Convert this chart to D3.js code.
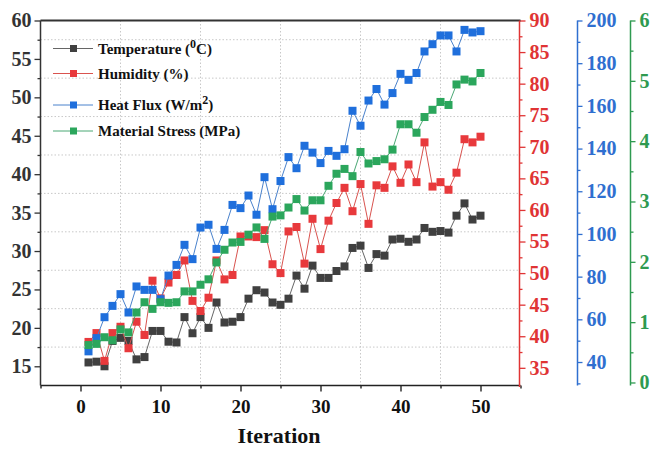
<!DOCTYPE html>
<html><head><meta charset="utf-8">
<script src="https://cdn.jsdelivr.net/npm/d3@7"></script>
<style>
html,body{margin:0;padding:0;background:#fff;}
svg text{font-family:"Liberation Serif","Times New Roman",serif;font-weight:bold;}
</style></head>
<body><svg id="c" width="650" height="449"></svg>
<script>
const iterations = d3.range(1, 51);
const temperature = [15.5,15.6,15.0,18.3,18.7,18.3,15.9,16.2,19.6,19.6,18.2,18.1,21.4,19.3,21.4,20.0,23.3,20.7,20.8,21.4,23.8,24.9,24.6,23.3,23.0,23.8,26.8,25.1,28.1,26.5,26.5,27.4,28.0,30.4,30.7,27.8,29.6,29.4,31.5,31.6,31.2,31.5,33.0,32.5,32.6,32.4,34.6,36.2,34.1,34.6];
const humidity = [39.1,40.5,36.1,40.5,41.5,38.1,42.3,40.2,48.8,46.0,48.5,49.7,52.0,45.6,44.0,46.1,52.0,49.0,49.7,55.8,55.8,55.7,56.8,51.4,50.0,56.6,57.3,51.5,58.6,53.8,58.3,61.1,63.5,59.8,64.1,57.8,63.9,63.5,66.9,64.3,67.2,64.4,70.7,63.7,64.4,63.2,65.9,71.2,70.7,71.6];
const heatFlux = [45,51.2,61.0,66.3,71.8,63.2,75.4,73.8,73.8,69.4,80.5,85.5,94.9,88.2,103.0,104.3,93.0,101.9,113.6,112.1,118.0,109.0,126.6,111.6,124.8,136.0,130.8,141.3,138.1,133.2,138.9,136.6,139.7,157.7,150.7,162.5,167.9,160.6,166.0,175.0,172.2,175.4,185.5,188.9,193.0,193.0,185.5,195.6,194.4,195.0];
const stress = [0.62,0.64,0.75,0.70,0.88,0.83,1.16,1.33,1.22,1.33,1.32,1.33,1.51,1.51,1.62,1.71,1.99,2.20,2.32,2.33,2.45,2.57,2.38,2.75,2.77,2.90,3.04,2.85,3.02,3.02,3.26,3.46,3.54,3.42,3.82,3.63,3.67,3.70,3.86,4.28,4.28,4.14,4.40,4.52,4.65,4.60,4.94,5.02,4.99,5.13];

const xTicks = [0,10,20,30,40,50];
const xMinor = [-5,5,15,25,35,45,55];
const tTicks = [15,20,25,30,35,40,45,50,55,60];
const tMinor = [17.5,22.5,27.5,32.5,37.5,42.5,47.5,52.5,57.5];
const hTicks = [35,40,45,50,55,60,65,70,75,80,85,90];
const hMinor = [37.5,42.5,47.5,52.5,57.5,62.5,67.5,72.5,77.5,82.5,87.5];
const fTicks = [40,60,80,100,120,140,160,180,200];
const fMinor = [30,50,70,90,110,130,150,170,190];
const sTicks = [0,1,2,3,4,5,6];
const sMinor = [0.5,1.5,2.5,3.5,4.5,5.5];

const svg = d3.select("#c");
const L = 40.5, R = 520.5, T = 20.5, B = 385.5;
const x = d3.scaleLinear().domain([-5,55]).range([L,R]);
const yT = d3.scaleLinear().domain([12.5,60]).range([B,T]);
const yH = d3.scaleLinear().domain([32.2,90]).range([B,T]);
const yF = d3.scaleLinear().domain([29,200]).range([B,T]);
const yS = d3.scaleLinear().domain([-0.05,6]).range([B,T]);

// grid
const g = svg.append("g");
g.selectAll("line.v").data(xMinor.filter(v=>v>-5&&v<55)).enter().append("line")
  .attr("x1",d=>x(d)).attr("x2",d=>x(d)).attr("y1",T).attr("y2",B)
  .attr("stroke","#c8c8c8").attr("stroke-width",1).attr("stroke-dasharray","1.5,2");
g.selectAll("line.h").data(tMinor).enter().append("line")
  .attr("x1",L).attr("x2",R).attr("y1",d=>yT(d)).attr("y2",d=>yT(d))
  .attr("stroke","#c8c8c8").attr("stroke-width",1).attr("stroke-dasharray","1.5,2");

function styleAxis(sel, color, fs){
  sel.select(".domain").remove();
  sel.selectAll("line").attr("stroke",color).attr("stroke-width",1.3);
  sel.selectAll("text").attr("fill",color).style("font-size",fs+"px");
}
// bottom axis
const xa = svg.append("g").attr("transform",`translate(0,${B})`)
  .call(d3.axisBottom(x).tickValues(xTicks).tickSize(6).tickPadding(8).tickFormat(d3.format("d")));
styleAxis(xa,"#111",19);
const xm = svg.append("g").attr("transform",`translate(0,${B})`)
  .call(d3.axisBottom(x).tickValues(xMinor).tickSize(3).tickFormat(""));
styleAxis(xm,"#111",19);
// left axis
const la = svg.append("g").attr("transform",`translate(${L},0)`)
  .call(d3.axisLeft(yT).tickValues(tTicks).tickSize(6).tickPadding(3));
styleAxis(la,"#333",20);
const lm = svg.append("g").attr("transform",`translate(${L},0)`)
  .call(d3.axisLeft(yT).tickValues(tMinor).tickSize(3).tickFormat(""));
styleAxis(lm,"#333",20);
// red axis
const ra = svg.append("g").attr("transform",`translate(${R-1},0)`)
  .call(d3.axisRight(yH).tickValues(hTicks).tickSize(6).tickPadding(4));
styleAxis(ra,"#e03434",20);
const rm = svg.append("g").attr("transform",`translate(${R-1},0)`)
  .call(d3.axisRight(yH).tickValues(hMinor).tickSize(3).tickFormat(""));
styleAxis(rm,"#e03434",20);
// blue axis
const bX = 577.5;
const ba = svg.append("g").attr("transform",`translate(${bX},0)`)
  .call(d3.axisRight(yF).tickValues(fTicks).tickSize(5).tickPadding(4));
styleAxis(ba,"#2f6fd0",20);
const bm = svg.append("g").attr("transform",`translate(${bX},0)`)
  .call(d3.axisRight(yF).tickValues(fMinor).tickSize(3).tickFormat(""));
styleAxis(bm,"#2f6fd0",20);
// green axis
const gX = 630.5;
const ga = svg.append("g").attr("transform",`translate(${gX},0)`)
  .call(d3.axisRight(yS).tickValues(sTicks).tickSize(5).tickPadding(4).tickFormat(d3.format("d")));
styleAxis(ga,"#2e9a50",20);
const gm = svg.append("g").attr("transform",`translate(${gX},0)`)
  .call(d3.axisRight(yS).tickValues(sMinor).tickSize(3).tickFormat(""));
styleAxis(gm,"#2e9a50",20);

// axis lines
svg.append("line").attr("x1",L).attr("x2",R).attr("y1",T).attr("y2",T).attr("stroke","#333").attr("stroke-width",2.2);
svg.append("line").attr("x1",L).attr("x2",R).attr("y1",B).attr("y2",B).attr("stroke","#222").attr("stroke-width",1.5);
svg.append("line").attr("x1",L).attr("x2",L).attr("y1",T).attr("y2",B).attr("stroke","#333").attr("stroke-width",1.5);
svg.append("line").attr("x1",R-1).attr("x2",R-1).attr("y1",T).attr("y2",B+1.5).attr("stroke","#e03434").attr("stroke-width",1.5);
svg.append("line").attr("x1",bX).attr("x2",bX).attr("y1",T).attr("y2",B).attr("stroke","#2f6fd0").attr("stroke-width",1.5);
svg.append("line").attr("x1",gX).attr("x2",gX).attr("y1",T).attr("y2",B).attr("stroke","#2e9a50").attr("stroke-width",1.5);

// x title
svg.append("text").attr("x",279).attr("y",443).attr("text-anchor","middle")
  .style("font-size","22px").attr("fill","#111").text("Iteration");

// series
const series = [
  {vals:temperature, y:yT, fill:"#404040", line:"#666"},
  {vals:humidity, y:yH, fill:"#e8393c", line:"#d9534f"},
  {vals:heatFlux, y:yF, fill:"#1f6fdc", line:"#4a82cc"},
  {vals:stress, y:yS, fill:"#2ba65c", line:"#4aa874"}
];
const ms = 8;
series.forEach(s=>{
  const line = d3.line().x((d,i)=>x(iterations[i])).y(d=>s.y(d));
  svg.append("path").datum(s.vals).attr("d",line).attr("fill","none")
    .attr("stroke",s.line).attr("stroke-width",1);
  svg.append("g").selectAll("rect").data(s.vals).enter().append("rect")
    .attr("x",(d,i)=>x(iterations[i])-ms/2).attr("y",d=>s.y(d)-ms/2)
    .attr("width",ms).attr("height",ms).attr("fill",s.fill);
});

// legend
const legend = [
  {name:"Temperature (", sup:"0", tail:"C)", fill:"#404040", line:"#666", y:48.5},
  {name:"Humidity (%)", sup:"", tail:"", fill:"#e8393c", line:"#d9534f", y:73.5},
  {name:"Heat Flux (W/m", sup:"2", tail:")", fill:"#1f6fdc", line:"#4a82cc", y:105},
  {name:"Material Stress (MPa)", sup:"", tail:"", fill:"#2ba65c", line:"#4aa874", y:131}
];
legend.forEach(l=>{
  svg.append("line").attr("x1",53).attr("x2",93).attr("y1",l.y).attr("y2",l.y).attr("stroke",l.line).attr("stroke-width",1);
  svg.append("rect").attr("x",70).attr("y",l.y-3.5).attr("width",7).attr("height",7).attr("fill",l.fill);
  const t = svg.append("text").attr("x",98).attr("y",l.y+5).style("font-size","15px").attr("fill","#111");
  t.append("tspan").text(l.name);
  if(l.sup){
    t.append("tspan").attr("dy",-6).style("font-size","12px").text(l.sup);
    t.append("tspan").attr("dy",6).text(l.tail);
  }
});
</script></body></html>
